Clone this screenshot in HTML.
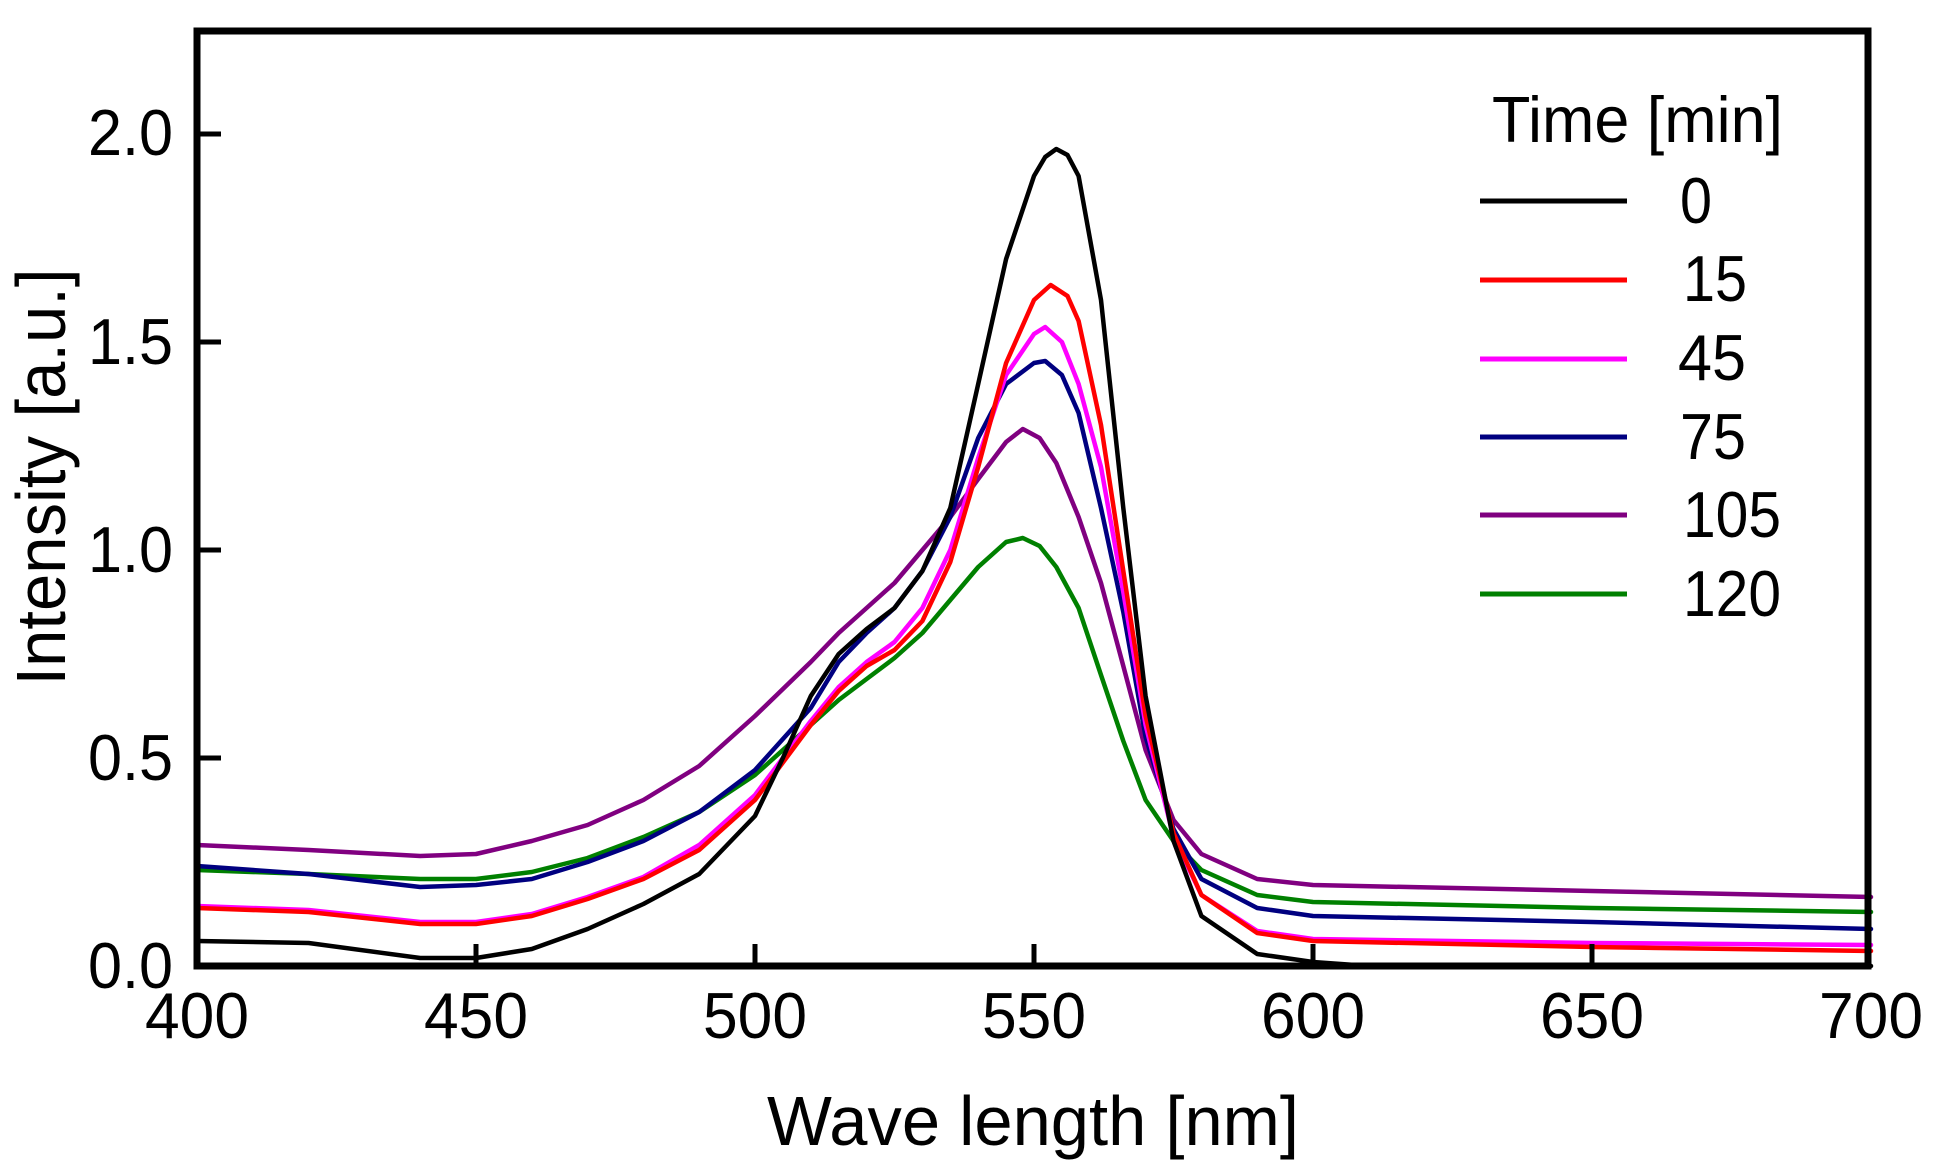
<!DOCTYPE html>
<html><head><meta charset="utf-8"><style>
html,body{margin:0;padding:0;background:#fff;}
svg{display:block;font-family:"Liberation Sans",Arial,sans-serif;}
</style></head><body>
<svg width="1941" height="1176" viewBox="0 0 1941 1176" xmlns="http://www.w3.org/2000/svg">
<rect width="1941" height="1176" fill="#fff"/>
<g fill="none" stroke-width="4.5" stroke-linejoin="round" stroke-linecap="round">
<polyline stroke="#008000" points="197,870 308.6,874 420.2,879 476,879 531.8,872 587.6,858 643.4,837 699.2,812 755,775 810.8,725 838.7,700 866.6,679 894.5,658 922.4,633 950.3,600 978.2,567 1006.1,542 1022.8,538 1039.6,546 1056.3,567 1078.6,608 1101,675 1123.3,741 1145.6,800 1173.5,841 1201.4,870 1257.2,895 1313,902 1592,908 1871,912"/>
<polyline stroke="#800080" points="197,845 308.6,850 420.2,856 476,854 531.8,841 587.6,825 643.4,800 699.2,766 755,716 810.8,662 838.7,633 866.6,608 894.5,583 922.4,550 950.3,517 978.2,479 1006.1,442 1022.8,429 1039.6,438 1056.3,463 1078.6,517 1101,583 1123.3,666 1145.6,750 1173.5,820 1201.4,854 1257.2,879 1313,885 1592,891 1871,897"/>
<polyline stroke="#000080" points="197,866 308.6,874 420.2,887 476,885 531.8,879 587.6,862 643.4,841 699.2,812 755,770 810.8,708 838.7,662 866.6,633 894.5,608 922.4,571 950.3,517 978.2,438 1006.1,384 1034,363 1045.2,361 1061.9,375 1078.6,413 1101,508 1123.3,612 1145.6,737 1173.5,829 1201.4,879 1257.2,908 1313,916 1592,922 1871,929"/>
<polyline stroke="#ff00ff" points="197,906 308.6,910 420.2,922 476,922 531.8,914 587.6,897 643.4,877 699.2,845 755,795 810.8,721 838.7,687 866.6,662 894.5,642 922.4,608 950.3,550 978.2,458 1006.1,375 1034,334 1045.2,327 1061.9,342 1078.6,384 1101,467 1123.3,592 1145.6,725 1173.5,837 1201.4,895 1257.2,931 1313,939 1592,943 1871,945"/>
<polyline stroke="#ff0000" points="197,908 308.6,912 420.2,924 476,924 531.8,916 587.6,899 643.4,879 699.2,850 755,800 810.8,725 838.7,691 866.6,666 894.5,650 922.4,621 950.3,562 978.2,467 1006.1,363 1034,300 1050.7,285 1067.5,296 1078.6,321 1101,425 1123.3,571 1145.6,716 1173.5,833 1201.4,895 1257.2,933 1313,941 1592,947 1871,951"/>
<polyline stroke="#000000" points="197,941 308.6,943 420.2,958 476,958 531.8,949 587.6,929 643.4,904 699.2,874 755,816 782.9,758 810.8,696 838.7,654 866.6,629 894.5,608 922.4,571 950.3,508 978.2,384 1006.1,259 1034,176 1045.2,157 1056.3,149 1067.5,155 1078.6,176 1101,300 1123.3,508 1145.6,696 1173.5,841 1201.4,916 1257.2,954 1313,962 1368.8,966 1871,966"/>
</g>
<rect x="197" y="31" width="1671" height="935" fill="none" stroke="#000" stroke-width="7"/>
<g stroke="#000" stroke-width="5">
<line x1="476" y1="966" x2="476" y2="944"/><line x1="755" y1="966" x2="755" y2="944"/>
<line x1="1034" y1="966" x2="1034" y2="944"/><line x1="1313" y1="966" x2="1313" y2="944"/>
<line x1="1592" y1="966" x2="1592" y2="944"/>
<line x1="197" y1="758" x2="221" y2="758"/><line x1="197" y1="550" x2="221" y2="550"/>
<line x1="197" y1="342" x2="221" y2="342"/><line x1="197" y1="134" x2="221" y2="134"/>
</g>
<g font-size="65" fill="#000">
<text x="88" y="988" textLength="85" lengthAdjust="spacingAndGlyphs">0.0</text>
<text x="88" y="780" textLength="85" lengthAdjust="spacingAndGlyphs">0.5</text>
<text x="88" y="572" textLength="85" lengthAdjust="spacingAndGlyphs">1.0</text>
<text x="88" y="364" textLength="85" lengthAdjust="spacingAndGlyphs">1.5</text>
<text x="88" y="155" textLength="85" lengthAdjust="spacingAndGlyphs">2.0</text>
</g>
<g font-size="65" fill="#000">
<text x="145" y="1038" textLength="104" lengthAdjust="spacingAndGlyphs">400</text>
<text x="424" y="1038" textLength="104" lengthAdjust="spacingAndGlyphs">450</text>
<text x="703" y="1038" textLength="104" lengthAdjust="spacingAndGlyphs">500</text>
<text x="982" y="1038" textLength="104" lengthAdjust="spacingAndGlyphs">550</text>
<text x="1261" y="1038" textLength="104" lengthAdjust="spacingAndGlyphs">600</text>
<text x="1540" y="1038" textLength="104" lengthAdjust="spacingAndGlyphs">650</text>
<text x="1819" y="1038" textLength="104" lengthAdjust="spacingAndGlyphs">700</text>
</g>
<text x="767" y="1145" font-size="70" textLength="532" lengthAdjust="spacingAndGlyphs">Wave length [nm]</text>
<text transform="translate(65,477) rotate(-90)" font-size="70" text-anchor="middle" textLength="417" lengthAdjust="spacingAndGlyphs">Intensity [a.u.]</text>
<text x="1492" y="142" font-size="65" textLength="291" lengthAdjust="spacingAndGlyphs">Time [min]</text>
<g stroke-width="5">
<line x1="1480" y1="201" x2="1627" y2="201" stroke="#000"/>
<line x1="1480" y1="280" x2="1627" y2="280" stroke="#ff0000"/>
<line x1="1480" y1="359" x2="1627" y2="359" stroke="#ff00ff"/>
<line x1="1480" y1="437" x2="1627" y2="437" stroke="#000080"/>
<line x1="1480" y1="515" x2="1627" y2="515" stroke="#800080"/>
<line x1="1480" y1="594" x2="1627" y2="594" stroke="#008000"/>
</g>
<g font-size="65" fill="#000">
<text x="1680" y="223" textLength="32" lengthAdjust="spacingAndGlyphs">0</text>
<text x="1683" y="301" textLength="64" lengthAdjust="spacingAndGlyphs">15</text>
<text x="1678" y="380" textLength="68" lengthAdjust="spacingAndGlyphs">45</text>
<text x="1680" y="459" textLength="66" lengthAdjust="spacingAndGlyphs">75</text>
<text x="1683" y="537" textLength="98" lengthAdjust="spacingAndGlyphs">105</text>
<text x="1683" y="616" textLength="98" lengthAdjust="spacingAndGlyphs">120</text>
</g>
</svg>
</body></html>
